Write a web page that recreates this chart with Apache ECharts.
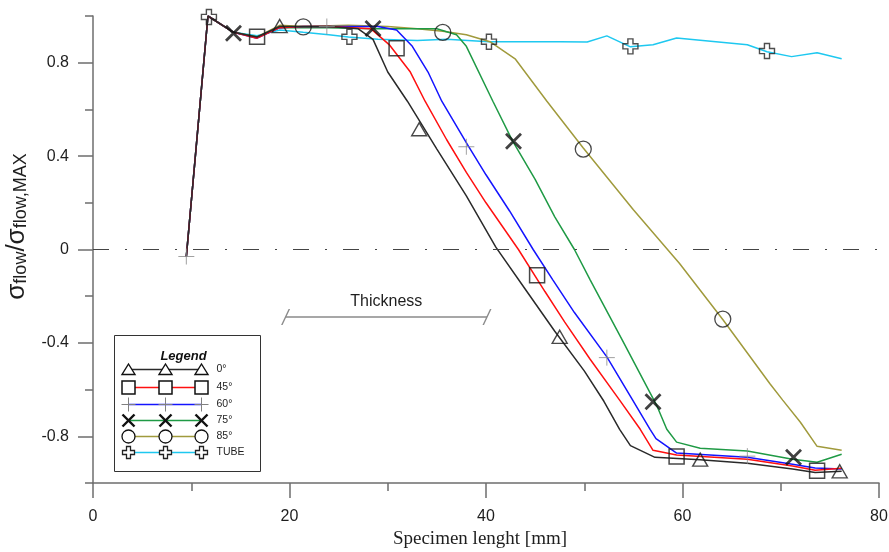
<!DOCTYPE html>
<html><head><meta charset="utf-8">
<script src="https://cdn.jsdelivr.net/npm/echarts@6/dist/echarts.min.js"></script>
<style>html,body{margin:0;padding:0;background:#fff}#c{width:889px;height:552px}</style>
</head><body><div id="c"></div>
<script>
// ---------- data ----------
const yTickLabels = [-0.8, -0.4, 0, 0.4, 0.8];
const legendLabels = ['0°', '45°', '60°', '75°', '85°', 'TUBE'];

const line0 = [[9.5,-0.03],[11.7,1.0],[14.3,0.93],[16.7,0.91],[19.0,0.955],[21.4,0.955],[24,0.955],[27,0.945],[28.5,0.9],[30,0.76],[32,0.635],[35,0.43],[38,0.23],[41,0.01],[44,-0.17],[47,-0.35],[50,-0.52],[52,-0.65],[53.6,-0.77],[54.7,-0.84],[57.2,-0.89],[61.8,-0.9],[66.6,-0.915],[71.2,-0.94],[73.5,-0.955],[76.2,-0.95]];
const line45 = [[9.5,-0.03],[11.7,1.0],[14.3,0.93],[16.7,0.905],[19.0,0.95],[21.4,0.955],[24,0.955],[28.3,0.945],[30.2,0.875],[32.3,0.76],[33.8,0.635],[36,0.47],[38,0.33],[40,0.2],[43.3,0.0],[46,-0.18],[48,-0.31],[50.6,-0.47],[53.6,-0.645],[55.7,-0.77],[57,-0.86],[59.4,-0.88],[66.6,-0.898],[71.2,-0.927],[73.5,-0.945],[76.2,-0.937]];
const line60 = [[9.5,-0.03],[11.7,1.0],[14.3,0.93],[16.7,0.905],[19.0,0.95],[21.4,0.955],[24,0.955],[29,0.955],[30.9,0.94],[32.5,0.87],[34.1,0.76],[35.5,0.635],[38.1,0.45],[40,0.32],[42.4,0.165],[44.8,0.0],[46.8,-0.13],[49,-0.27],[52.3,-0.46],[54.9,-0.643],[56.7,-0.77],[57.3,-0.81],[59.4,-0.872],[66.6,-0.89],[71.2,-0.92],[73.5,-0.936],[76.2,-0.94]];
const line75 = [[9.5,-0.03],[11.7,1.0],[14.3,0.93],[16.7,0.91],[19.0,0.95],[21.4,0.95],[24,0.95],[28.5,0.945],[35,0.945],[37,0.92],[38,0.87],[40.7,0.635],[42.7,0.465],[45,0.3],[47,0.14],[49,0.0],[50.6,-0.13],[53.9,-0.39],[57.4,-0.67],[58.4,-0.77],[59.4,-0.825],[61.8,-0.851],[66.6,-0.863],[71.2,-0.898],[73.7,-0.911],[76.2,-0.877]];
const line85 = [[9.5,-0.03],[11.7,1.0],[14.3,0.93],[16.7,0.91],[19.0,0.96],[21.4,0.955],[26,0.96],[30,0.955],[33,0.945],[35.6,0.935],[38,0.92],[40.4,0.89],[43,0.815],[46.2,0.635],[49.9,0.435],[55,0.17],[59.7,-0.06],[64.1,-0.3],[68.9,-0.575],[70.2,-0.645],[72,-0.74],[73.7,-0.843],[76.2,-0.86]];
const lineTube = [[9.5,-0.03],[11.7,1.0],[14.3,0.93],[16.7,0.915],[19,0.94],[21.4,0.93],[24,0.92],[26,0.91],[29,0.9],[33,0.895],[36,0.9],[40.3,0.89],[44,0.89],[47.5,0.89],[50.3,0.889],[52.3,0.915],[54.7,0.868],[57,0.877],[59.4,0.906],[66.6,0.877],[68.6,0.847],[71.1,0.826],[73.7,0.843],[76.2,0.817]];

const marks0 = [[19.0,0.957],[33.2,0.515],[47.5,-0.374],[61.8,-0.9],[76.0,-0.95]];
const marks45 = [[16.7,0.911],[30.9,0.862],[45.2,-0.11],[59.4,-0.886],[73.7,-0.948]];
const marks60 = [[9.5,-0.03],[23.8,0.955],[38.0,0.44],[52.3,-0.463],[66.6,-0.885]];
const marks75 = [[14.3,0.926],[28.5,0.946],[42.8,0.464],[57.0,-0.652],[71.3,-0.89]];
const marks85 = [[21.4,0.953],[35.6,0.93],[49.9,0.43],[64.1,-0.298]];
const marksTube = [[11.8,0.996],[26.1,0.911],[40.3,0.89],[54.7,0.87],[68.6,0.85]];

const zeroLineY = 0;
const thicknessX = [19.6, 40.1];
const thicknessY = -0.289;
const thicknessText = 'Thickness';

// ---------- styles ----------
const FONT = 'Liberation Sans, Arial, sans-serif';
const AXIS_COLOR = '#6e6e6e';
const TEXT_COLOR = '#1e1e1e';

const MARKERS = {
  tri: {symbol:'triangle', size:[15,13], style:{color:'transparent', borderColor:'#1a1a1a', borderWidth:1.4}},
  sq: {symbol:'rect', size:15, style:{color:'transparent', borderColor:'#1a1a1a', borderWidth:1.5}},
  thinPlus: {symbol:'path://M5,0V10M0,5H10', size:16, style:{color:'transparent', borderColor:'#8a8a8a', borderWidth:1}},
  x: {symbol:'path://M0,0L10,10M10,0L0,10', size:15, style:{color:'transparent', borderColor:'#111', borderWidth:2.8}},
  circ: {symbol:'circle', size:16, style:{color:'transparent', borderColor:'#1a1a1a', borderWidth:1.3}},
  tubePlus: {symbol:'path://M3.3,0H6.7V3.3H10V6.7H6.7V10H3.3V6.7H0V3.3H3.3Z', size:15, style:{color:'transparent', borderColor:'#222', borderWidth:1.4}}
};

const SERIES = [
  {name: legendLabels[0], line: line0, marks: marks0, color: '#2a2a2a', marker: 'tri'},
  {name: legendLabels[1], line: line45, marks: marks45, color: '#ff1010', marker: 'sq'},
  {name: legendLabels[2], line: line60, marks: marks60, color: '#1414ff', marker: 'thinPlus'},
  {name: legendLabels[3], line: line75, marks: marks75, color: '#1f9a45', marker: 'x'},
  {name: legendLabels[4], line: line85, marks: marks85, color: '#a09a3c', marker: 'circ'},
  {name: legendLabels[5], line: lineTube, marks: marksTube, color: '#1ec8f0', marker: 'tubePlus'}
];

// line drawing order: TUBE first, 0° last (on top)
const drawOrder = [5, 4, 3, 2, 1, 0];
const series = [];
drawOrder.forEach(i => {
  const s = SERIES[i];
  series.push({
    type: 'line', name: s.name, data: s.line, symbol: 'none', z: 2,
    lineStyle: {color: s.color, width: 1.5}, silent: true, animation: false
  });
});
SERIES.forEach(s => {
  const m = MARKERS[s.marker];
  series.push({
    type: 'scatter', name: s.name + ' markers', data: s.marks, z: 5,
    symbol: m.symbol, symbolSize: m.size, itemStyle: m.style, silent: true, animation: false
  });
});
// zero dash-dot line
series.push({
  type: 'line', name: 'zero', data: [], silent: true, animation: false,
  markLine: {
    silent: true, symbol: 'none', animation: false,
    lineStyle: {color: '#444', width: 1, type: [16, 16, 2, 16]},
    label: {show: false},
    data: [{yAxis: zeroLineY}]
  }
});
// thickness annotation
series.push({
  type: 'line', name: 'thickness', data: [], silent: true, animation: false,
  markLine: {
    silent: true, animation: false,
    symbol: 'path://M0,16L7.5,0L9,0L1.5,16Z', symbolSize: [9, 16], symbolRotate: 0,
    lineStyle: {color: '#8a8a8a', width: 1.5, type: 'solid'},
    label: {show: true, position: 'insideMiddleTop', formatter: thicknessText, distance: 7,
            fontFamily: FONT, fontSize: 16, color: TEXT_COLOR},
    data: [[{coord: [thicknessX[0], thicknessY]}, {coord: [thicknessX[1], thicknessY]}]]
  }
});

// ---------- legend (graphic) ----------
function legendSymbol(kind, cx, cy) {
  switch (kind) {
    case 'tri': return {type:'polygon', shape:{points:[[cx,cy-5.5],[cx+6.5,cy+5],[cx-6.5,cy+5]]}, style:{fill:'#fff', stroke:'#111', lineWidth:1.4}};
    case 'sq': return {type:'rect', shape:{x:cx-6.5,y:cy-6.5,width:13,height:13}, style:{fill:'#fff', stroke:'#111', lineWidth:1.5}};
    case 'thinPlus': return {type:'group', children:[
      {type:'line', shape:{x1:cx,y1:cy-7,x2:cx,y2:cy+7}, style:{stroke:'#808080', lineWidth:1}},
      {type:'line', shape:{x1:cx-7,y1:cy,x2:cx+7,y2:cy}, style:{stroke:'#808080', lineWidth:1}}]};
    case 'x': return {type:'group', children:[
      {type:'line', shape:{x1:cx-6,y1:cy-6,x2:cx+6,y2:cy+6}, style:{stroke:'#111', lineWidth:2.4}},
      {type:'line', shape:{x1:cx+6,y1:cy-6,x2:cx-6,y2:cy+6}, style:{stroke:'#111', lineWidth:2.4}}]};
    case 'circ': return {type:'circle', shape:{cx:cx, cy:cy, r:6.5}, style:{fill:'#fff', stroke:'#111', lineWidth:1.3}};
    case 'tubePlus': {
      const a = 2, b = 6;
      const pts = [[cx-a,cy-b],[cx+a,cy-b],[cx+a,cy-a],[cx+b,cy-a],[cx+b,cy+a],[cx+a,cy+a],[cx+a,cy+b],[cx-a,cy+b],[cx-a,cy+a],[cx-b,cy+a],[cx-b,cy-a],[cx-a,cy-a]];
      return {type:'polygon', shape:{points: pts}, style:{fill:'#fff', stroke:'#222', lineWidth:1.3}};
    }
  }
}
const legendChildren = [
  {type:'rect', shape:{x:0, y:0, width:146, height:136}, style:{fill:'#fff', stroke:'#333', lineWidth:1}},
  {type:'text', x:69, y:21, style:{text:'Legend', fontFamily:FONT, fontSize:13, fontWeight:'bold', fontStyle:'italic', fill:'#111', align:'center', verticalAlign:'middle'}}
];
const rowY = [34, 52, 69, 85, 101, 117];
SERIES.forEach((s, i) => {
  const y = rowY[i];
  legendChildren.push({type:'line', shape:{x1:14, y1:y, x2:87, y2:y}, style:{stroke:s.color, lineWidth:1.5}});
  [14, 51, 87].forEach(x => legendChildren.push(legendSymbol(s.marker, x, y)));
  legendChildren.push({type:'text', x:102, y:y, style:{text:s.name, fontFamily:FONT, fontSize:10.5, fill:TEXT_COLOR, align:'left', verticalAlign:'middle'}});
});

// ---------- chart ----------
const chart = echarts.init(document.getElementById('c'));
chart.setOption({
  animation: false,
  backgroundColor: '#fff',
  grid: {left: 93, right: 10, top: 16, bottom: 69, containLabel: false, outerBoundsMode: 'none'},
  xAxis: {
    type: 'value', min: 0, max: 80, interval: 20,
    name: 'Specimen lenght [mm]', nameLocation: 'middle', nameGap: 42,
    nameTextStyle: {fontFamily: 'Liberation Serif, Times New Roman, serif', fontSize: 19, color: TEXT_COLOR, padding: [0, 12, 0, 0]},
    axisLine: {onZero: false, lineStyle: {color: AXIS_COLOR, width: 1.5}},
    axisTick: {length: 15, lineStyle: {color: AXIS_COLOR, width: 1.5}},
    minorTick: {show: true, splitNumber: 2, length: 8, lineStyle: {color: AXIS_COLOR, width: 1.5}},
    axisLabel: {fontFamily: FONT, fontSize: 16, color: TEXT_COLOR, margin: 26},
    splitLine: {show: false}
  },
  yAxis: [{
    type: 'value', min: -1, max: 1, position: 'left', offset: 0,
    name: '{s|σ}{b|flow}{s|/σ}{b|flow,MAX}', nameLocation: 'middle', nameGap: 54,
    nameTextStyle: {padding: [0, 0, 0, 46], rich: {
      s: {fontFamily: FONT, fontSize: 26, color: TEXT_COLOR, lineHeight: 28},
      b: {fontFamily: FONT, fontSize: 18, color: TEXT_COLOR, lineHeight: 18, verticalAlign: 'bottom'}
    }},
    axisLine: {onZero: false, lineStyle: {color: AXIS_COLOR, width: 1.5}},
    axisTick: {length: 15, customValues: yTickLabels, lineStyle: {color: AXIS_COLOR, width: 1.5}},
    axisLabel: {customValues: yTickLabels, fontFamily: FONT, fontSize: 16, color: TEXT_COLOR, margin: 24,
                formatter: v => String(Math.round(v * 10) / 10)},
    splitLine: {show: false}
  }, {
    type: 'value', min: -1, max: 1, interval: 0.2, position: 'left', offset: 0,
    axisLine: {show: false},
    axisTick: {length: 8, lineStyle: {color: AXIS_COLOR, width: 1.5}},
    axisLabel: {show: false},
    splitLine: {show: false}
  }],
  series: series,
  graphic: [{type: 'group', left: 114, top: 335, z: 100, children: legendChildren}]
});
</script>
</body></html>
